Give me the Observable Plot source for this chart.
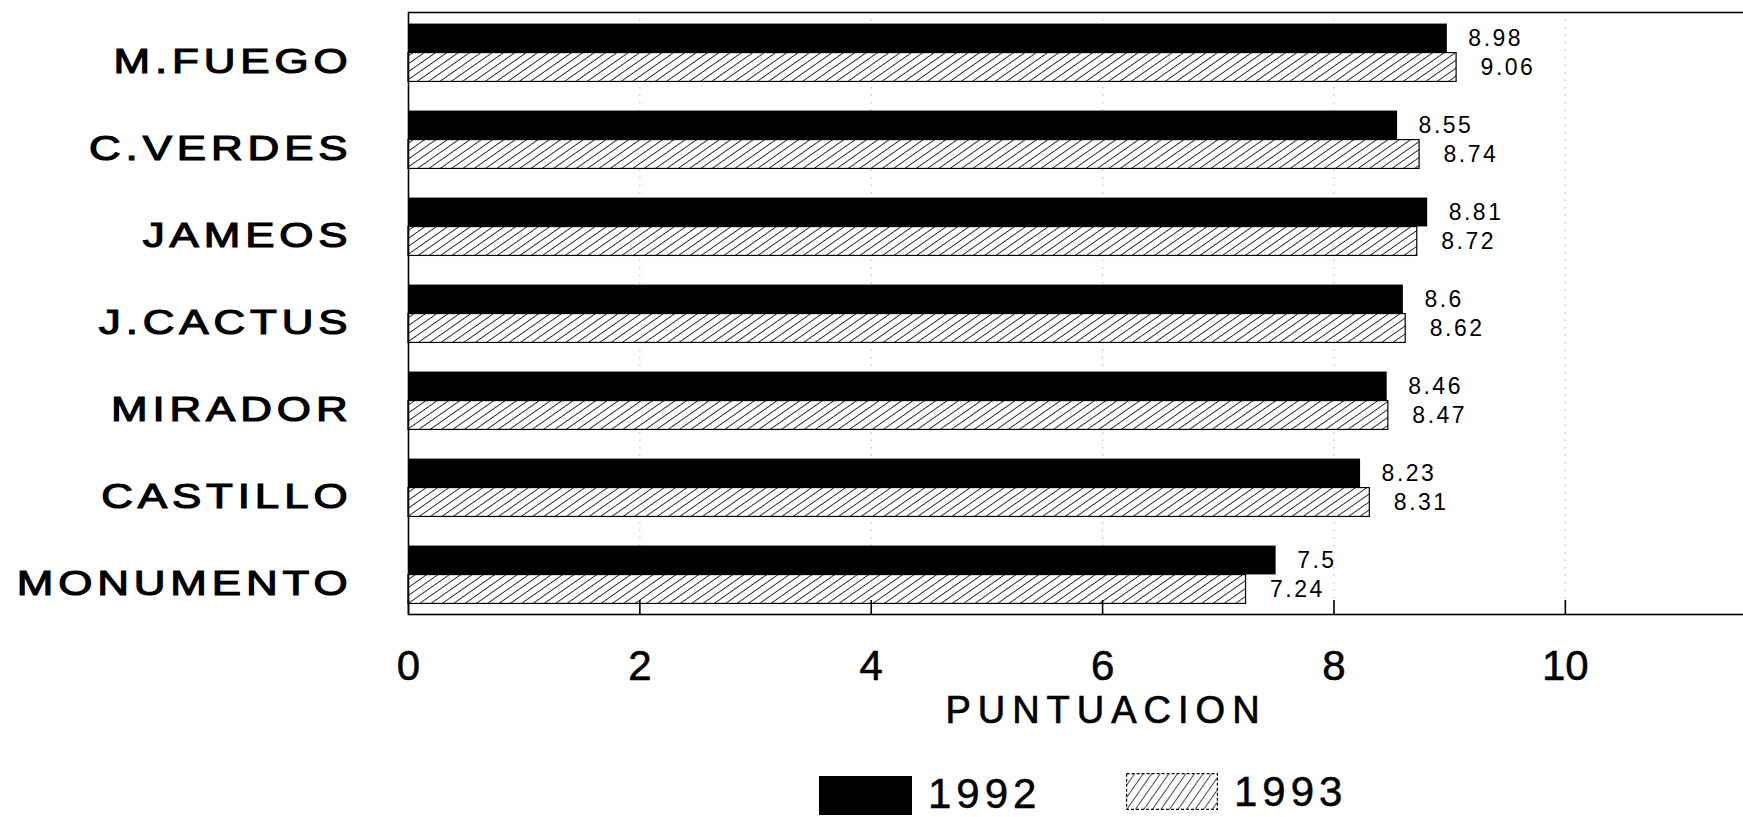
<!DOCTYPE html>
<html>
<head>
<meta charset="utf-8">
<script src="https://cdn.jsdelivr.net/npm/d3@7"></script>
<script src="https://cdn.jsdelivr.net/npm/@observablehq/plot@0.6"></script>
<style>
  html, body { margin: 0; padding: 0; background: #fff; overflow: hidden; }
  #chart { width: 1743px; height: 760px; }
  #legend { position: relative; width: 1743px; height: 57px; font-family: "Liberation Sans", Arial, sans-serif; }
  #legend .lbl { position: absolute; font-size: 42px; letter-spacing: 5px; line-height: 34px; color: #000; -webkit-text-stroke: 0.5px #000; }
</style>
</head>
<body>
<div id="chart"></div>
<div id="legend"></div>
<script>
const categories = ["M.FUEGO", "C.VERDES", "JAMEOS", "J.CACTUS", "MIRADOR", "CASTILLO", "MONUMENTO"];
const values1992 = [8.98, 8.55, 8.81, 8.6, 8.46, 8.23, 7.5];
const values1993 = [9.06, 8.74, 8.72, 8.62, 8.47, 8.31, 7.24];
const years = ["1992", "1993"];
const xTicks = [0, 2, 4, 6, 8, 10];
const gridTicks = [2, 4, 6, 8, 10];
const axisTitle = "PUNTUACION";

const data1992 = categories.map((c, i) => ({cat: c, value: values1992[i]}));
const data1993 = categories.map((c, i) => ({cat: c, value: values1993[i]}));

const step = (618 - 8) / categories.length;
const half = step / 2;
const barH = 29;
const outer = half - barH;

const svg = Plot.plot({
  width: 1743,
  height: 760,
  marginLeft: 408,
  marginRight: 0,
  marginTop: 8,
  marginBottom: 142,
  x: {domain: [0, 11.54]},
  y: {domain: categories, padding: 0},
  style: {fontFamily: "'Liberation Sans', Arial, sans-serif", color: "#000", background: "#fff"},
  marks: [
    Plot.ruleX(gridTicks, {stroke: "#777", strokeOpacity: 0.55, strokeDasharray: "1.5,6", insetTop: 4, insetBottom: 4}),
    Plot.barX(data1992, {x: "value", y: "cat", fill: "#000", insetTop: outer, insetBottom: half}),
    Plot.barX(data1993, {x: "value", y: "cat", fill: "url(#hatch)", stroke: "#000", strokeWidth: 1.2, insetTop: half, insetBottom: outer}),
    Plot.text(data1992, {x: "value", y: "cat", text: d => String(d.value), dy: -barH / 2, dx: 21, textAnchor: "start", fontSize: 23, fill: "#000"}),
    Plot.text(data1993, {x: "value", y: "cat", text: d => String(d.value), dy: barH / 2, dx: 24, textAnchor: "start", fontSize: 23, fill: "#000"}),
    Plot.frame({insetTop: 4, insetBottom: 4, insetRight: -6, strokeWidth: 1.6}),
    Plot.ruleX(xTicks, {insetTop: (618 - 8) - 4 - 14, insetBottom: 4, strokeWidth: 1.6}),
    Plot.axisX({ticks: xTicks, tickSize: 0, tickPadding: 32, fontSize: 42, tickFormat: d => String(d), label: null}),
    Plot.axisY({tickSize: 0, tickPadding: 56, fontSize: 36, dy: 8, label: null}),
    Plot.text([axisTitle], {frameAnchor: "bottom", dy: 78, dx: 30, lineAnchor: "top", fontSize: 38, text: d => d, fill: "#000"})
  ]
});

const s = d3.select(svg);
const defs = s.insert("defs", ":first-child");
const pat = defs.append("pattern")
  .attr("id", "hatch")
  .attr("patternUnits", "userSpaceOnUse")
  .attr("width", 6.5).attr("height", 6.5)
  .attr("patternTransform", "rotate(55)");
pat.append("rect").attr("width", 6.5).attr("height", 6.5).attr("fill", "#fff");
pat.append("line").attr("x1", 0).attr("y1", 0).attr("x2", 0).attr("y2", 6.5)
  .attr("stroke", "#000").attr("stroke-width", 1.6);

// letter spacing / widening / weight per text kind
s.selectAll("text").each(function() {
  const t = this.textContent;
  if (categories.includes(t)) {
    this.style.letterSpacing = "4px";
    this.style.stroke = "#000";
    this.style.strokeWidth = "1.2px";
    const tr = this.getAttribute("transform");
    if (tr) this.setAttribute("transform", tr + " scale(1.22,1)");
    else {
      const x = +this.getAttribute("x") || 0;
      this.setAttribute("transform", `translate(${x},0) scale(1.22,1) translate(${-x},0)`);
    }
  } else if (t === axisTitle) {
    this.style.letterSpacing = "7px";
    this.style.stroke = "#000";
    this.style.strokeWidth = "0.7px";
  } else if (t.includes(".")) {
    this.style.letterSpacing = "2.5px";
  } else {
    this.style.stroke = "#000";
    this.style.strokeWidth = "0.6px";
  }
});

document.getElementById("chart").appendChild(svg);

// legend
const legend = document.getElementById("legend");
const sw1 = document.createElement("div");
sw1.style.cssText = "position:absolute;left:819px;top:16px;width:93px;height:39px;background:#000;";
legend.appendChild(sw1);
const l1 = document.createElement("div");
l1.className = "lbl";
l1.style.cssText = "left:928px;top:17px;";
l1.textContent = years[0];
legend.appendChild(l1);

const ns = "http://www.w3.org/2000/svg";
const sw2 = document.createElementNS(ns, "svg");
sw2.setAttribute("width", 92);
sw2.setAttribute("height", 37);
sw2.style.cssText = "position:absolute;left:1126px;top:13px;";
sw2.innerHTML = '<defs><pattern id="hatchL" patternUnits="userSpaceOnUse" width="7" height="7" patternTransform="rotate(35)"><rect width="7" height="7" fill="#fff"/><line x1="0" y1="0" x2="0" y2="7" stroke="#000" stroke-width="1.4"/></pattern></defs><rect x="0.6" y="0.6" width="90.8" height="35.8" fill="url(#hatchL)" stroke="#000" stroke-width="1.2" stroke-dasharray="3,2"/>';
legend.appendChild(sw2);
const l2 = document.createElement("div");
l2.className = "lbl";
l2.style.cssText = "left:1234px;top:15px;";
l2.textContent = years[1];
legend.appendChild(l2);
</script>
</body>
</html>
